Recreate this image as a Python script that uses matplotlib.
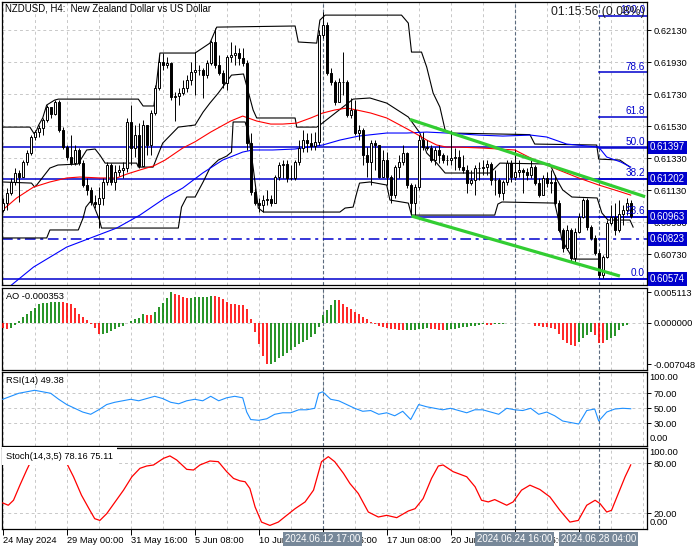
import matplotlib
matplotlib.use("Agg")
import matplotlib.pyplot as plt
from matplotlib.transforms import blended_transform_factory as btf
import numpy as np

plt.rcParams['font.family'] = ['Liberation Sans', 'DejaVu Sans']
FS = 6.7

# ---------------- data (H4 bars, index 0 = 24 May 2024 08:00) ----------------
first_open = 0.61006
close = [0.61049, 0.61112, 0.61181, 0.61237, 0.61212, 0.61306, 0.61362, 0.61462, 0.61493, 0.61518,
         0.61568, 0.61649, 0.61606, 0.61681, 0.61506, 0.61399, 0.61337, 0.61299, 0.61381, 0.61299,
         0.61162, 0.61131, 0.61056, 0.61043, 0.61081, 0.61181, 0.61287, 0.61181, 0.61243, 0.61256,
         0.61268, 0.61556, 0.61393, 0.61474, 0.61281, 0.61537, 0.61412, 0.61612, 0.61768, 0.61931,
         0.61912, 0.61924, 0.61712, 0.61718, 0.61737, 0.61768, 0.61818, 0.61868, 0.61881, 0.61881,
         0.61849, 0.61924, 0.62056, 0.61912, 0.61862, 0.61799, 0.61962, 0.61974, 0.61987, 0.61956,
         0.61924, 0.61424, 0.61118, 0.61049, 0.61037, 0.61068, 0.61074, 0.61049, 0.61212, 0.61287,
         0.61293, 0.61206, 0.61206, 0.61306, 0.61393, 0.61443, 0.61424, 0.61406, 0.61431, 0.62099,
         0.62162, 0.61862, 0.61806, 0.61681, 0.61806, 0.61806, 0.61599, 0.61631, 0.61487, 0.61506,
         0.61349, 0.61306, 0.61424, 0.61412, 0.61212, 0.61318, 0.61212, 0.61099, 0.61274, 0.61306,
         0.61362, 0.61162, 0.61049, 0.61149, 0.61443, 0.61399, 0.61393, 0.61318, 0.61381, 0.61349,
         0.61318, 0.61318, 0.61331, 0.61337, 0.61274, 0.61256, 0.61174, 0.61193, 0.61268, 0.61268,
         0.61274, 0.61293, 0.61193, 0.61193, 0.61112, 0.61181, 0.61299, 0.61212, 0.61243, 0.61256,
         0.61243, 0.61224, 0.61274, 0.61174, 0.61099, 0.61206, 0.61174, 0.61181, 0.61049, 0.60881,
         0.60768, 0.60881, 0.60706, 0.60868, 0.60962, 0.61068, 0.60899, 0.60831, 0.60737, 0.60599,
         0.60712, 0.60924, 0.60962, 0.60881, 0.60981, 0.61006, 0.61049, 0.60968]
high = [0.61081, 0.61143, 0.61206, 0.61268, 0.61256, 0.61318, 0.61381, 0.61474, 0.61506, 0.61537,
        0.61581, 0.61662, 0.61631, 0.61693, 0.61693, 0.61524, 0.61412, 0.61474, 0.61412, 0.61393,
        0.61318, 0.61206, 0.61149, 0.61099, 0.61149, 0.61206, 0.61306, 0.61299, 0.61287, 0.61287,
        0.61306, 0.61581, 0.61662, 0.61537, 0.61549, 0.61568, 0.61537, 0.61631, 0.61787, 0.61974,
        0.61987, 0.61962, 0.61931, 0.61743, 0.61768, 0.61818, 0.61849, 0.61931, 0.61993, 0.61912,
        0.61893, 0.61943, 0.62068, 0.62143, 0.61974, 0.61881, 0.61974, 0.62056, 0.62037, 0.62018,
        0.62018, 0.61943, 0.61487, 0.61143, 0.61081, 0.61099, 0.61131, 0.61099, 0.61224, 0.61306,
        0.61318, 0.61318, 0.61287, 0.61318, 0.61443, 0.61506, 0.61487, 0.61487, 0.61493, 0.62131,
        0.62243, 0.62181, 0.61893, 0.61818, 0.61831, 0.61993, 0.61818, 0.61706, 0.61693, 0.61537,
        0.61518, 0.61399, 0.61443, 0.61443, 0.61412, 0.61381, 0.61368, 0.61224, 0.61287, 0.61349,
        0.61412, 0.61368, 0.61174, 0.61168, 0.61474, 0.61493, 0.61443, 0.61412, 0.61399, 0.61412,
        0.61362, 0.61349, 0.61506, 0.61393, 0.61381, 0.61349, 0.61287, 0.61256, 0.61287, 0.61306,
        0.61318, 0.61318, 0.61306, 0.61256, 0.61206, 0.61193, 0.61318, 0.61318, 0.61381, 0.61318,
        0.61268, 0.61268, 0.61318, 0.61287, 0.61206, 0.61224, 0.61243, 0.61256, 0.61224, 0.61068,
        0.60893, 0.60912, 0.60893, 0.60893, 0.60987, 0.61081, 0.61081, 0.60912, 0.60849, 0.60756,
        0.60724, 0.60943, 0.61037, 0.61049, 0.61068, 0.61037, 0.61081, 0.61068]
low = [0.60993, 0.61006, 0.61099, 0.61162, 0.61056, 0.61218, 0.61287, 0.61349, 0.61443, 0.61462,
       0.61474, 0.61556, 0.61581, 0.61599, 0.61493, 0.61387, 0.61318, 0.61287, 0.61287, 0.61287,
       0.61149, 0.61099, 0.61037, 0.61018, 0.60893, 0.61037, 0.61162, 0.61162, 0.61131, 0.61218,
       0.61206, 0.61243, 0.61287, 0.61337, 0.61268, 0.61287, 0.61349, 0.61349, 0.61599, 0.61756,
       0.61881, 0.61893, 0.61693, 0.61562, 0.61662, 0.61724, 0.61743, 0.61787, 0.61724, 0.61849,
       0.61706, 0.61831, 0.61912, 0.61893, 0.61849, 0.61768, 0.61756, 0.61931, 0.61912, 0.61912,
       0.61906, 0.61381, 0.61099, 0.61037, 0.60993, 0.60993, 0.61037, 0.61031, 0.61049, 0.61193,
       0.61206, 0.61181, 0.61193, 0.61193, 0.61287, 0.61368, 0.61368, 0.61381, 0.61381, 0.61412,
       0.62081, 0.61849, 0.61787, 0.61662, 0.61681, 0.61724, 0.61587, 0.61581, 0.61474, 0.61443,
       0.61287, 0.61212, 0.61162, 0.61256, 0.61206, 0.61224, 0.61162, 0.61049, 0.61081, 0.61206,
       0.61287, 0.61143, 0.60974, 0.60974, 0.61131, 0.61381, 0.61381, 0.61306, 0.61287, 0.61299,
       0.61299, 0.61287, 0.61287, 0.61256, 0.61256, 0.61237, 0.61112, 0.61162, 0.61099, 0.61193,
       0.61224, 0.61224, 0.61162, 0.61099, 0.61087, 0.61068, 0.61162, 0.61181, 0.61193, 0.61212,
       0.61112, 0.61193, 0.61206, 0.61162, 0.61087, 0.61099, 0.61149, 0.61112, 0.61037, 0.60868,
       0.60743, 0.60756, 0.60681, 0.60681, 0.60862, 0.60956, 0.60881, 0.60818, 0.60724, 0.60581,
       0.60581, 0.60706, 0.60912, 0.60849, 0.60868, 0.60912, 0.60974, 0.60956]

# moving averages (bar index, price)
ma_red_i = [0, 3.5, 7.7, 11.8, 16, 19.3, 24.3, 28.5, 31, 34.3, 37.7, 40.6, 45, 48, 52, 57, 60, 63.5, 67, 70,
            73.5, 77, 80, 83, 86, 88.5, 92, 96, 99.3, 103, 106, 108.5, 111, 114, 120, 128, 133, 139, 144,
            149, 153, 157]
ma_red_v = [0.61006, 0.61081, 0.61149, 0.61181, 0.61206, 0.61212, 0.61206, 0.61206, 0.61230, 0.61256,
            0.61281, 0.61318, 0.61393, 0.61431, 0.61493, 0.61562, 0.61593, 0.61562, 0.61543, 0.61543,
            0.61549, 0.61581, 0.61612, 0.61631, 0.61643, 0.61631, 0.61612, 0.61581, 0.61537, 0.61487,
            0.61443, 0.61412, 0.61399, 0.61399, 0.61393, 0.61381, 0.61318, 0.61256, 0.61206, 0.61162,
            0.61131, 0.61099]
ma_blue_i = [1, 2.2, 7.7, 16, 22.6, 28.5, 34.3, 40.6, 45, 50, 55, 60, 62.5, 67.5, 73, 80, 84.3, 89, 96,
             101, 106, 111, 119, 125, 132, 136, 141, 149, 151, 154.5, 157]
ma_blue_v = [0.60506, 0.60537, 0.60649, 0.60774, 0.60837, 0.60893, 0.60974, 0.61081, 0.61143, 0.61237,
             0.61318, 0.61368, 0.61381, 0.61381, 0.61387, 0.61412, 0.61443, 0.61468, 0.61487, 0.61487,
             0.61493, 0.61487, 0.61474, 0.61468, 0.61474, 0.61462, 0.61418, 0.61399, 0.61337, 0.61306,
             0.61274]

# price channel lines (bar index, price)
upper_i = [-1, 6.8, 7.9, 8.5, 9, 10, 11, 13, 13.9, 33.9, 35.1, 37.8, 39.3, 48.1, 51.8, 53.5, 73.1, 73.9,
           78.5, 79.3, 80.6, 99.7, 101.4, 102.2, 104.7, 106, 107.6, 109.3, 110.6, 111.8, 131.8, 133,
           148.5, 149, 154.3, 156.8]
upper_v = [0.61524, 0.61524, 0.61481, 0.61506, 0.61537, 0.61581, 0.61662, 0.61693, 0.61699, 0.61699,
           0.61656, 0.61656, 0.61987, 0.61987, 0.62049, 0.62149, 0.62156, 0.62056, 0.62049, 0.62193,
           0.62224, 0.62224, 0.62174, 0.61993, 0.61993, 0.61899, 0.61737, 0.61649, 0.61506, 0.61487,
           0.61477, 0.61418, 0.61412, 0.61324, 0.61318, 0.61274]
mid_i = [0, 7.2, 8, 8.5, 11.8, 13.8, 18.8, 21, 23.1, 24.3, 25.6, 33.5, 33.9, 37.6, 38.5, 40, 43.9, 48.1,
         50.1, 51.8, 53.9, 57.2, 60.2, 62.6, 63.5, 73.1, 73.5, 78.5, 79.3, 87.6, 91.8, 96, 101.4, 104.3,
         106, 108.5, 110.6, 121.8, 124.3, 136.8, 138.6, 140, 142.3, 148.6, 149.8, 151.3, 156.8, 157.6]
mid_v = [0.61181, 0.61174, 0.61149, 0.61162, 0.61268, 0.61287, 0.61293, 0.61381, 0.61387, 0.61349,
         0.61299, 0.61299, 0.61274, 0.61274, 0.61331, 0.61424, 0.61524, 0.61537, 0.61618, 0.61674,
         0.61737, 0.61849, 0.61856, 0.61631, 0.61581, 0.61581, 0.61524, 0.61524, 0.61537, 0.61699,
         0.61706, 0.61674, 0.61587, 0.61487, 0.61362, 0.61299, 0.61237, 0.61237, 0.61299, 0.61293,
         0.61193, 0.61131, 0.61087, 0.61081, 0.60987, 0.60943, 0.60943, 0.60899]
lower_i = [-1, 11, 11.8, 18.9, 20.1, 20.8, 22.2, 24.2, 24.7, 43.9, 44.7, 46, 48.1, 50.1, 51.8, 53.9, 56,
           57.2, 57.6, 60.6, 61.4, 62.6, 63.9, 65.2, 84.3, 85.6, 87.6, 88.5, 89.2, 91.8, 96, 96.8, 101.4,
           102.2, 123, 123.8, 124.8, 138, 138.8, 139.8, 142.6, 148.8]
lower_v = [0.60831, 0.60831, 0.60881, 0.60881, 0.60956, 0.61024, 0.61068, 0.60943, 0.60893, 0.60893,
           0.61024, 0.61087, 0.61087, 0.61181, 0.61268, 0.61318, 0.61343, 0.61368, 0.61556, 0.61556,
           0.61487, 0.61274, 0.61018, 0.60993, 0.60993, 0.61018, 0.61024, 0.61112, 0.61174, 0.61181,
           0.61162, 0.61068, 0.61049, 0.60974, 0.60974, 0.61043, 0.61056, 0.61049, 0.60962, 0.60818,
           0.60699, 0.60699]

# trend channel (green)
tl_up_i = [101.8, 160.6]
tl_up_v = [0.61572, 0.61089]
tl_dn_i = [102.2, 154.3]
tl_dn_v = [0.60968, 0.60593]

# Fibonacci retracement and horizontal levels
fib_low, fib_high = 0.60574, 0.62218
fib_levels = [0.0, 23.6, 38.2, 50.0, 61.8, 78.6, 100.0]
fib_start = 149
level_lines = [0.61397, 0.61202, 0.60963, 0.60574]
dashdot_level = 0.60823

# Awesome Oscillator, one value per bar
ao = [-0.00090, -0.00107, -0.00084, -0.00039, 0.00034, 0.00101, 0.00141, 0.00203, 0.00253, 0.00315,
      0.00338, 0.00341, 0.00343, 0.00345, 0.00347, 0.00344, 0.00340, 0.00315, 0.00242, 0.00146,
      0.00101, 0.00045, -0.00028, -0.00084, -0.00195, -0.00190, -0.00180, -0.00141, -0.00107, -0.00068,
      -0.00051, -0.00011, 0.00034, 0.00062, 0.00084, 0.00141, 0.00130, 0.00128, 0.00175, 0.00270,
      0.00327, 0.00422, 0.00511, 0.00480, 0.00465, 0.00440, 0.00420, 0.00425, 0.00430, 0.00433,
      0.00436, 0.00440, 0.00446, 0.00443, 0.00428, 0.00394, 0.00355, 0.00315, 0.00312, 0.00298,
      0.00296, 0.00231, 0.00062, -0.00152, -0.00366, -0.00557, -0.00705, -0.00690, -0.00659, -0.00602,
      -0.00557, -0.00518, -0.00462, -0.00405, -0.00366, -0.00332, -0.00293, -0.00236, -0.00191, -0.00068,
      0.00129, 0.00214, 0.00298, 0.00383, 0.00380, 0.00315, 0.00270, 0.00225, 0.00180, 0.00140,
      0.00100, 0.00060, 0.00020, -0.00020, -0.00050, -0.00075, -0.00090, -0.00105, -0.00110, -0.00115,
      -0.00125, -0.00120, -0.00118, -0.00115, -0.00105, -0.00100, -0.00095, -0.00100, -0.00110, -0.00115,
      -0.00120, -0.00118, -0.00110, -0.00100, -0.00090, -0.00080, -0.00070, -0.00060, -0.00050, -0.00040,
      -0.00030, -0.00035, -0.00040, -0.00030, -0.00020, -0.00015, -0.00010, -0.00008, -0.00005, -0.00006,
      -0.00007, -0.00008, -0.00010, -0.00050, -0.00052, -0.00068, -0.00079, -0.00084, -0.00107, -0.00191,
      -0.00293, -0.00349, -0.00377, -0.00385, -0.00332, -0.00265, -0.00208, -0.00152, -0.00200, -0.00335,
      -0.00336, -0.00295, -0.00265, -0.00220, -0.00130, -0.00060, -0.000353]

# RSI(14) (bar index, value)
rsi_i = [0, 4, 8, 12, 14, 16, 18, 20, 22, 24, 26, 28, 30, 32, 34, 36, 38, 40, 42, 44, 46, 48, 50, 52, 54,
         56, 58, 60, 61, 62, 64, 66, 68, 70, 72, 74, 76, 78, 79, 80, 82, 84, 86, 88, 90, 92, 94, 96, 98,
         100, 102, 104, 106, 108, 110, 112, 114, 116, 118, 120, 122, 124, 126, 128, 130, 132, 134, 136,
         138, 140, 142, 144, 146, 148, 149, 151, 153, 155, 157]
rsi_v = [62, 70, 74, 70, 62, 55, 50, 45, 42, 48, 55, 58, 60, 62, 60, 63, 66, 63, 58, 56, 60, 62, 60, 66,
         60, 64, 66, 64, 45, 35, 34, 36, 42, 44, 44, 48, 48, 50, 70, 72, 62, 60, 55, 50, 46, 47, 42, 44,
         40, 46, 35, 55, 52, 50, 48, 50, 47, 44, 48, 48, 45, 42, 50, 48, 47, 50, 42, 45, 40, 33, 31, 29,
         47, 49, 33, 45, 49, 50, 49.38]

# Stochastic(14,3,5) main line (bar index, value)
st_i = [0, 1.4, 2.7, 4.3, 6, 7, 9, 11, 13, 15, 15.8, 17.7, 19.7, 21.8, 23, 24.3, 26, 28.1, 30.2, 32.3,
        34.3, 36, 37.7, 40.2, 41.8, 43.5, 46, 47.7, 49.3, 51.8, 53.9, 56, 57.7, 59.3, 60.6, 61.8, 63.1,
        64.7, 66.8, 68.9, 71, 73.1, 75.6, 77.7, 79.7, 81.4, 83, 85.2, 86.8, 88.9, 91.4, 93.9, 96, 98.5,
        101.4, 103.1, 105.1, 107.2, 108.9, 110.1, 112.6, 116, 118.1, 119.7, 121.4, 123, 126, 127.6,
        129.7, 131.8, 134.3, 136.8, 139.3, 141.8, 143.9, 146, 148.1, 149.3, 151, 152.2, 153.9, 155.6,
        156.6, 157]
st_v = [32.5, 29.7, 35.7, 53.8, 72, 82, 87, 89, 89, 87, 82, 63.9, 41.7, 23.6, 13.6, 11.5, 19.6, 33.7,
        47.8, 63.9, 74, 76.8, 78, 86, 88.9, 84, 72.8, 72, 78, 82.8, 82, 70, 61.9, 59, 57.9, 49.8, 27.6,
        9.5, 5.5, 9.5, 17.6, 25.6, 33.7, 47.8, 82, 88, 82, 67.9, 55.8, 43.8, 21.6, 15.6, 17.6, 14.8,
        22.8, 25.6, 37.7, 61.9, 76.8, 78, 70, 63.9, 51.8, 35.7, 33.7, 36.5, 29.7, 33.7, 47.8, 53.8,
        48.6, 39.7, 23.6, 9.5, 11.5, 29.7, 35.7, 31.8, 21.6, 23.6, 43.8, 63.9, 74, 78.16]

# x axis labels and marked times
xtick_pos = [0, 16, 32, 48, 64, 80, 96, 112, 128, 144]
xtick_lab = ["24 May 2024", "29 May 00:00", "31 May 16:00", "5 Jun 08:00", "10 Jun 00:00",
             "12 Jun 16:00", "17 Jun 08:00", "20 Jun 00:00", "24 Jun 16:00", "27 Jun 08:00"]
vline_pos = [80, 128, 149]
vline_lab = ["2024.06.12 17:00", "2024.06.24 16:00", "2024.06.28 04:00"]
price_ticks = [0.62130, 0.61930, 0.61730, 0.61530, 0.61330, 0.61130, 0.60930, 0.60730]
price_boxes = [0.61397, 0.61202, 0.60963, 0.60823, 0.60574]

# ---------------- figure ----------------
W, H = 700, 550
fig = plt.figure(figsize=(7, 5.5), dpi=100)


def panel(x0, y0, x1, y1):
    return fig.add_axes([x0 / W, 1 - y1 / H, (x1 - x0) / W, (y1 - y0) / H])


ax = panel(2, 2, 647, 285)
ax_ao = panel(2, 288, 647, 370)
ax_rsi = panel(2, 372, 647, 446)
ax_st = panel(2, 448, 647, 529)
axes = [ax, ax_ao, ax_rsi, ax_st]

XMIN, XMAX = -0.175, 161.07
GRID = dict(color='#C8C8C8', lw=0.7, ls=(0, (3, 3)), zorder=0)
VL = dict(color='#5A6A7E', lw=0.8, ls=(0, (3, 2)), zorder=1)

for a in axes:
    a.set_xlim(XMIN, XMAX)
    a.set_facecolor('white')
    for s in a.spines.values():
        s.set_color('black')
        s.set_linewidth(0.9)
    a.yaxis.tick_right()
    a.tick_params(axis='y', direction='out', length=3, width=0.7, labelsize=FS, pad=1.5, colors='black')
    a.tick_params(axis='x', length=0, labelbottom=False)
    for k in range(0, 161, 8):
        a.axvline(k, **GRID)
    for v in vline_pos:
        a.axvline(v, **VL)

# ---- main chart ----
n = len(close)
idx = np.arange(n)
c = np.array(close)
o = np.array([first_open] + close[:-1])
hi = np.maximum(np.array(high), np.maximum(o, c))
lo = np.minimum(np.array(low), np.minimum(o, c))
up = c >= o
ax.vlines(idx, lo, hi, color='black', lw=0.7, zorder=4)
ax.bar(idx[up], (c - o)[up], bottom=o[up], width=0.55, facecolor='white', edgecolor='black', lw=0.7, zorder=5)
ax.bar(idx[~up], (c - o)[~up], bottom=o[~up], width=0.55, facecolor='black', edgecolor='black', lw=0.7, zorder=5)

ax.set_ylim(0.60537, 0.62306)
for p in price_ticks:
    ax.axhline(p, **GRID)
ax.set_yticks(price_ticks)
ax.set_yticklabels([f"{p:.5f}" for p in price_ticks])

ax.plot(upper_i, upper_v, color='black', lw=0.8, zorder=3)
ax.plot(mid_i, mid_v, color='black', lw=0.8, zorder=3)
ax.plot(lower_i, lower_v, color='black', lw=0.8, zorder=3)
ax.plot(ma_blue_i, ma_blue_v, color='#0000FF', lw=0.8, zorder=3)
ax.plot(ma_red_i, ma_red_v, color='#FF0000', lw=0.8, zorder=3)

BLUE = '#0000CD'
for lv in level_lines:
    ax.axhline(lv, color=BLUE, lw=1.1, zorder=2)
ax.axhline(dashdot_level, color=BLUE, lw=1.1, ls=(0, (7, 3, 2, 3)), zorder=2)

tr_r = btf(ax.transAxes, ax.transData)
for lvl in fib_levels:
    price = fib_low + (fib_high - fib_low) * lvl / 100.0
    ax.plot([fib_start, XMAX], [price, price], color=BLUE, lw=1.1, zorder=2)
    ax.text(0.997, price + 0.00004, f"{lvl:.1f}", transform=tr_r, ha='right', va='bottom',
            color=BLUE, fontsize=FS + 0.5, zorder=8)

ax.plot(tl_up_i, tl_up_v, color='#32CD32', lw=2.3, zorder=6, solid_capstyle='butt')
ax.plot(tl_dn_i, tl_dn_v, color='#32CD32', lw=2.3, zorder=6, solid_capstyle='butt')

for pb in price_boxes:
    ax.text(1.0047, pb, f"{pb:.5f}", transform=tr_r, ha='left', va='center', color='white',
            fontsize=FS + 0.3, zorder=10, clip_on=False,
            bbox=dict(boxstyle='square,pad=0.18', facecolor=BLUE, edgecolor='none'))

ax.text(0.005, 0.995, "NZDUSD, H4:  New Zealand Dollar vs US Dollar", transform=ax.transAxes,
        ha='left', va='top', fontsize=6.9, color='black', zorder=9)
ax.text(0.997, 0.985, "01:15:56 (0.08%)", transform=ax.transAxes, ha='right', va='top',
        fontsize=8.8, color='#202020', zorder=9)

# ---- AO ----
aov = np.array(ao)
cols = ['#FF0000'] + ['#008000' if aov[k] > aov[k - 1] else '#FF0000' for k in range(1, len(aov))]
ax_ao.axhline(0, **GRID)
ax_ao.vlines(np.arange(len(aov)), 0, aov, colors=cols, lw=1.2, zorder=3)
ax_ao.set_ylim(-0.00798, 0.00586)
ax_ao.set_yticks([0.005113, 0.0, -0.007048])
ax_ao.set_yticklabels(["0.005113", "0.000000", "-0.007048"])
ax_ao.text(0.006, 0.95, "AO -0.000353", transform=ax_ao.transAxes, ha='left', va='top', fontsize=FS,
           zorder=9, bbox=dict(boxstyle='square,pad=0.05', facecolor='white', edgecolor='none'))

# ---- RSI ----
ax_rsi.set_ylim(-0.3, 98.4)
for g in (70, 50, 30):
    ax_rsi.axhline(g, **GRID)
ax_rsi.plot(rsi_i, rsi_v, color='#1E90FF', lw=0.8, zorder=3)
ax_rsi.set_yticks([70, 50, 30])
ax_rsi.set_yticklabels(["70.00", "50.00", "30.00"])
tr_rsi = btf(ax_rsi.transAxes, ax_rsi.transData)
ax_rsi.text(1.004, 90.8, "100.00", transform=tr_rsi, ha='left', va='center', fontsize=FS, clip_on=False)
ax_rsi.text(1.004, 9.1, "0.00", transform=tr_rsi, ha='left', va='center', fontsize=FS, clip_on=False)
ax_rsi.text(0.006, 0.95, "RSI(14) 49.38", transform=ax_rsi.transAxes, ha='left', va='top', fontsize=FS,
            zorder=9, bbox=dict(boxstyle='square,pad=0.05', facecolor='white', edgecolor='none'))

# ---- Stochastic ----
ax_st.set_ylim(1.2, 98.4)
for g in (80, 20):
    ax_st.axhline(g, **GRID)
ax_st.plot(st_i, st_v, color='#FF0000', lw=0.9, zorder=3)
ax_st.set_yticks([80, 20])
ax_st.set_yticklabels(["80.00", "20.00"])
tr_st = btf(ax_st.transAxes, ax_st.transData)
ax_st.text(1.004, 92.7, "100.00", transform=tr_st, ha='left', va='center', fontsize=FS, clip_on=False)
ax_st.text(1.004, 8.7, "0.00", transform=tr_st, ha='left', va='center', fontsize=FS, clip_on=False)
ax_st.text(0.006, 0.955, "Stoch(14,3,5) 78.16 75.11", transform=ax_st.transAxes, ha='left', va='top',
           fontsize=FS, zorder=9, bbox=dict(boxstyle='square,pad=0.45', facecolor='white', edgecolor='none'))

ax_st.set_xticks(xtick_pos)
ax_st.set_xticklabels(xtick_lab)
ax_st.tick_params(axis='x', length=4, width=0.7, direction='out', labelbottom=True, labelsize=FS, pad=1)
for t in ax_st.get_xticklabels():
    t.set_ha('left')
tr_b = btf(ax_st.transData, ax_st.transAxes)
for v, lab in zip(vline_pos, vline_lab):
    ax_st.text(v, -0.12, lab, transform=tr_b, ha='center', va='center', color='white', fontsize=FS + 0.3,
               zorder=10, clip_on=False,
               bbox=dict(boxstyle='square,pad=0.2', facecolor='#778899', edgecolor='none'))

fig.savefig("out.png", dpi=100)
